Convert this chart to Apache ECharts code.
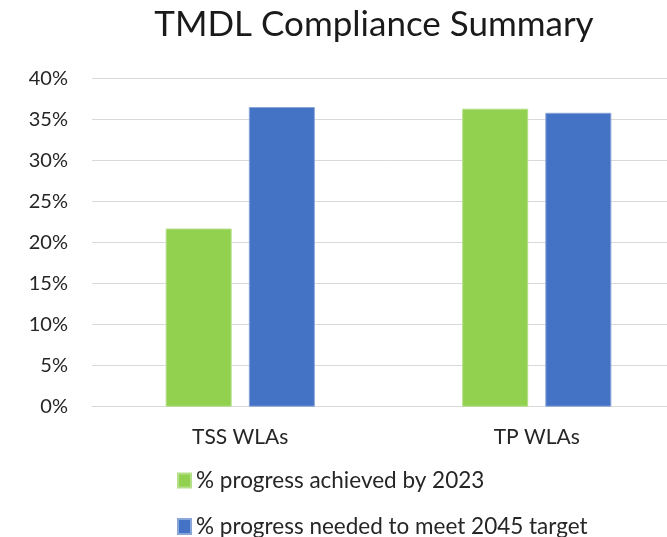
<!DOCTYPE html>
<html>
<head>
<meta charset="utf-8">
<script src="https://cdn.jsdelivr.net/npm/echarts@6/dist/echarts.min.js"></script>
<style>html,body{margin:0;padding:0;background:#fff;overflow:hidden;width:667px;height:537px;}#c{width:700px;height:537px;}</style>
</head>
<body>
<div id="c"></div>
<script>
const categories = ['TSS WLAs', 'TP WLAs'];
const seriesNames = ['% progress achieved by 2023', '% progress needed to meet 2045 target'];
const achieved = [21.7, 36.3];
const needed = [36.5, 35.8];
const yTicks = { min: 0, max: 40, interval: 5 };

const FONT = 'Lato';
const legendText = { fontFamily: FONT, fontSize: 22.5, color: '#262626', lineHeight: 22 };
const chart = echarts.init(document.getElementById('c'), null, { renderer: 'canvas' });
chart.setOption({
  animation: false,
  backgroundColor: '#fff',
  title: {
    text: 'TMDL Compliance Summary',
    left: 369, top: 2, textAlign: 'center',
    textStyle: { fontFamily: FONT, fontSize: 35, fontWeight: 'normal', color: '#1a1a1a' }
  },
  legend: [
    { orient: 'vertical', left: 172, top: 464, itemWidth: 13, itemHeight: 14, icon: 'rect',
      textStyle: legendText, data: [seriesNames[0]] },
    { orient: 'vertical', left: 172, top: 510, itemWidth: 13, itemHeight: 15, icon: 'rect',
      textStyle: legendText, data: [seriesNames[1]] }
  ],
  grid: { left: 92, top: 78.3, width: 593, height: 328.4, containLabel: false },
  xAxis: {
    type: 'category', data: categories,
    axisLine: { lineStyle: { color: '#d9d9d9', width: 1 } },
    axisTick: { show: false },
    axisLabel: { fontFamily: FONT, fontSize: 21, color: '#262626', margin: 20 }
  },
  yAxis: {
    type: 'value', min: yTicks.min, max: yTicks.max, interval: yTicks.interval,
    axisLabel: { formatter: '{value}%', fontFamily: FONT, fontSize: 20, color: '#262626', margin: 24 },
    axisLine: { show: false }, axisTick: { show: false },
    splitLine: { lineStyle: { color: '#d9d9d9', width: 1 } }
  },
  series: [
    { name: seriesNames[0], type: 'bar', data: achieved, barWidth: 66, barGap: '26%',
      itemStyle: { color: '#92D050', borderColor: '#b5e08a', borderWidth: 1 } },
    { name: seriesNames[1], type: 'bar', data: needed, barWidth: 66, barGap: '26%',
      itemStyle: { color: '#4472C4', borderColor: '#8aa5d8', borderWidth: 1 } }
  ]
});
</script>
</body>
</html>
